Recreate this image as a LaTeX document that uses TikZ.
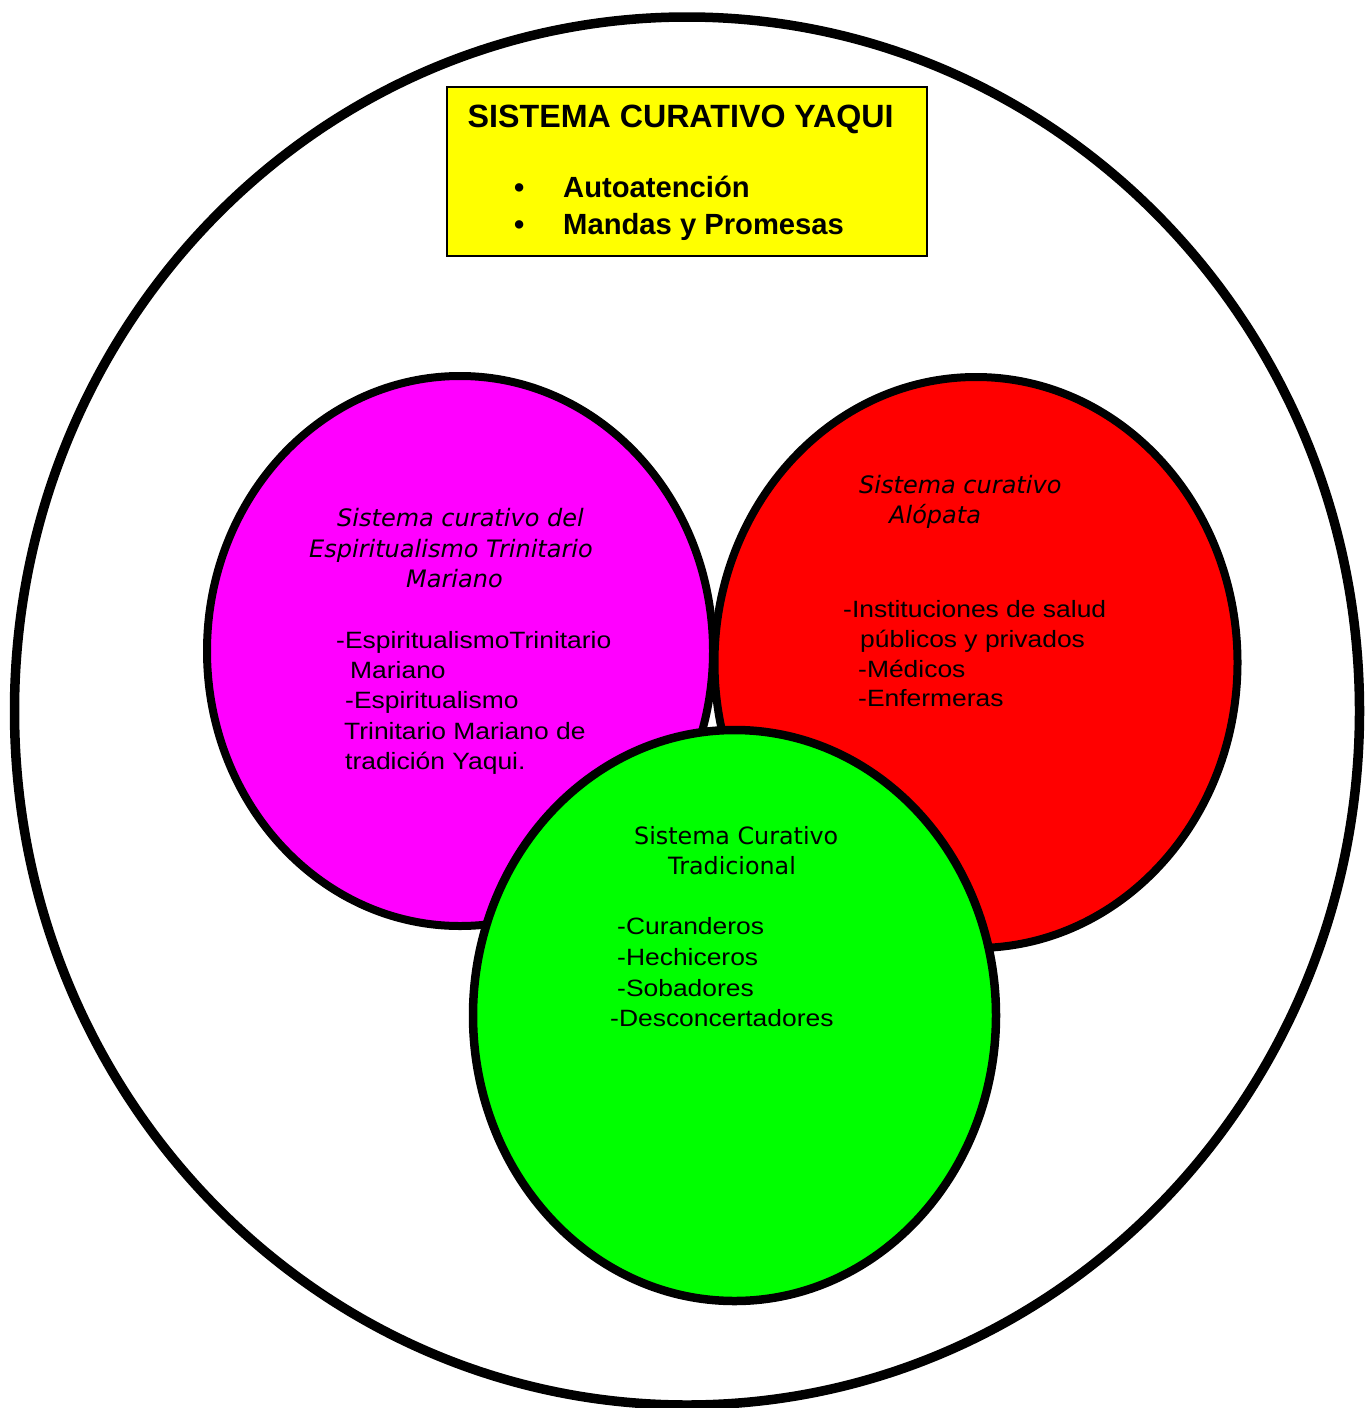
\documentclass[tikz,border=0pt]{standalone}
\usepackage{fontspec}
\setmainfont{Liberation Sans}
\newfontfamily\bodyf[FakeStretch=1.12]{Liberation Sans}
\newfontfamily\dejavu{DejaVu Sans}
\usetikzlibrary{shapes.geometric}
\definecolor{cMag}{HTML}{FF00FF}
\definecolor{cRed}{HTML}{FF0000}
\definecolor{cGreen}{HTML}{00FF00}
\definecolor{cYellow}{HTML}{FFFF00}
\tikzset{
  oval/.style={ellipse, draw=black, line width=8pt, inner sep=0pt, outer sep=0pt},
  title/.style={anchor=base west, inner sep=0pt, font=\fontsize{32.2}{36}\selectfont\bfseries},
  bul/.style={anchor=base west, inner sep=0pt, font=\fontsize{29.2}{34}\selectfont\bfseries},
  head/.style={anchor=base west, inner sep=0pt, font=\dejavu\fontsize{24}{28}\selectfont\itshape},
  headup/.style={anchor=base west, inner sep=0pt, font=\dejavu\fontsize{23.8}{28}\selectfont},
  body/.style={anchor=base west, inner sep=0pt, font=\bodyf\fontsize{23.6}{28}\selectfont},
}
\begin{document}
\begin{tikzpicture}[x=1pt,y=-1pt]
\useasboundingbox (0,0) rectangle (1372,1408);
\fill[white] (0,0) rectangle (1372,1408);
% outer circle
\node[ellipse, draw=black, line width=9.5pt, minimum width=1345pt, minimum height=1388pt, inner sep=0pt] (outer) at (687,711) {};
% title box
\node[draw=black, fill=cYellow, line width=1.5pt, minimum width=480pt, minimum height=169pt, inner sep=0pt] (box) at (687,171.5) {};
\node[title] (t0) at (467.5,127) {SISTEMA CURATIVO YAQUI};
\node[bul] (b1) at (514,197) {•};
\node[bul] (t1) at (563,197) {Autoatención};
\node[bul] (b2) at (514,234) {•};
\node[bul] (t2) at (563,234) {Mandas y Promesas};
% ellipses
\node[oval, fill=cMag, minimum width=506pt, minimum height=550pt] (esp) at (460,651) {};
\node[oval, fill=cRed, minimum width=523pt, minimum height=571pt] (alo) at (976,662.5) {};
\node[oval, fill=cGreen, minimum width=523pt, minimum height=571pt, line width=8.5pt] (trad) at (734.5,1015.5) {};
% magenta text
\node[head] (m1) at (337,526) {Sistema curativo del};
\node[head] (m2) at (309,557) {Espiritualismo Trinitario};
\node[head] (m3) at (406,587) {Mariano};
\node[body] (m4) at (336,648) {-EspiritualismoTrinitario};
\node[body] (m5) at (350,678) {Mariano};
\node[body] (m6) at (345,708) {-Espiritualismo};
\node[body] (m7) at (344,739) {Trinitario Mariano de};
\node[body] (m8) at (345,769) {tradición Yaqui.};
% red text
\node[head] (r1) at (859,493) {Sistema curativo};
\node[head] (r2) at (889,523) {Alópata};
\node[body] (r3) at (843,617) {-Instituciones de salud};
\node[body] (r4) at (860,647) {públicos y privados};
\node[body] (r5) at (858,677) {-Médicos};
\node[body] (r6) at (858,706) {-Enfermeras};
% green text
\node[headup] (g1) at (634,844) {Sistema Curativo};
\node[headup] (g2) at (668,874) {Tradicional};
\node[body] (g3) at (617,934) {-Curanderos};
\node[body] (g4) at (617,965) {-Hechiceros};
\node[body] (g5) at (617,996) {-Sobadores};
\node[body] (g6) at (610,1026) {-Desconcertadores};
\end{tikzpicture}
\end{document}
